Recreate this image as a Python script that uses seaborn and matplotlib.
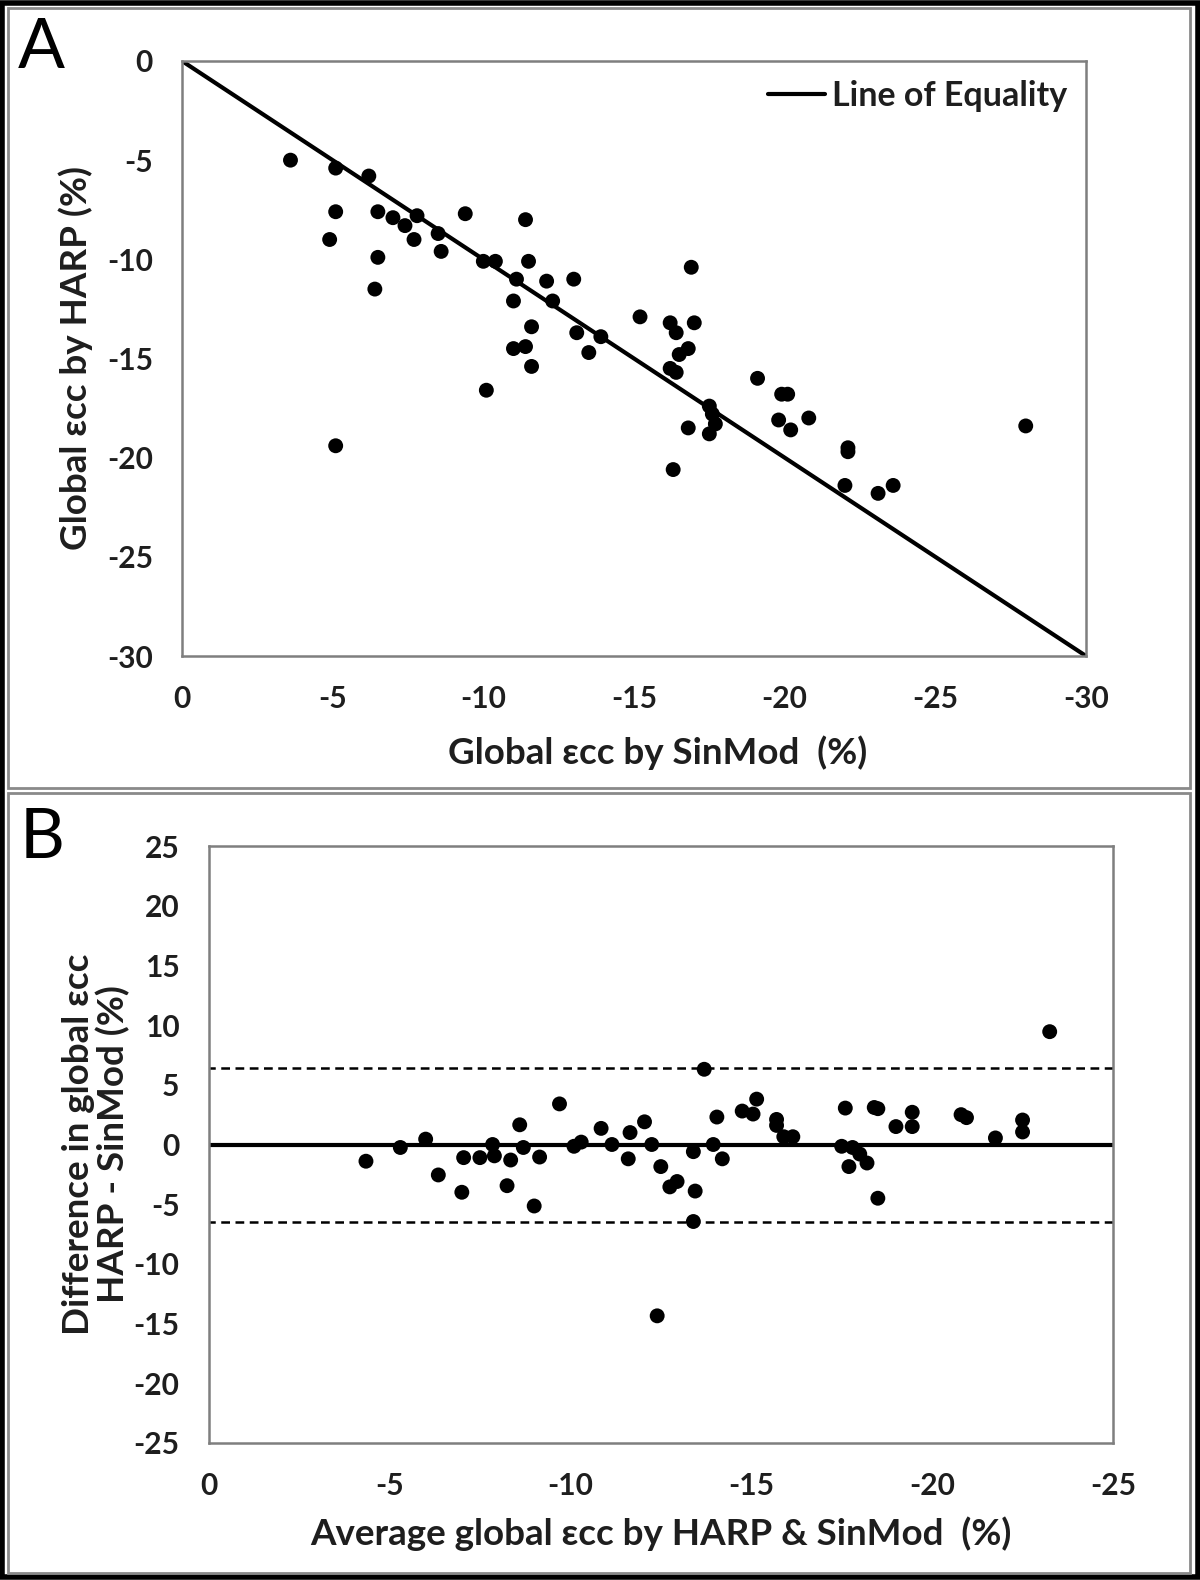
import numpy as np
import pandas as pd
import matplotlib
matplotlib.use('Agg')
import matplotlib.pyplot as plt
from matplotlib.patches import Rectangle
import seaborn as sns

# panel A: global ecc by SinMod (x) vs HARP (y), %
sinmod = [-3.6, -5.1, -6.2, -5.1, -4.9, -6.5, -7.0, -7.4, -7.8, -7.7, -8.5, -8.6,
          -6.5, -6.4, -5.1, -9.4, -10.0, -10.4, -11.4, -11.5, -11.1, -12.1, -13.0,
          -11.0, -12.3, -11.6, -13.1, -13.9, -11.0, -11.4, -13.5, -11.6, -10.1,
          -15.2, -16.2, -16.4, -16.9, -17.0, -16.8, -16.5, -16.2, -16.4, -17.5,
          -17.6, -17.7, -17.5, -16.8, -16.3, -19.1, -19.9, -20.1, -19.8, -20.2,
          -20.8, -22.1, -22.1, -22.0, -23.1, -23.6, -28.0]
harp = [-5.0, -5.4, -5.8, -7.6, -9.0, -7.6, -7.9, -8.3, -7.8, -9.0, -8.7, -9.6,
        -9.9, -11.5, -19.4, -7.7, -10.1, -10.1, -8.0, -10.1, -11.0, -11.1, -11.0,
        -12.1, -12.1, -13.4, -13.7, -13.9, -14.5, -14.4, -14.7, -15.4, -16.6,
        -12.9, -13.2, -13.7, -10.4, -13.2, -14.5, -14.8, -15.5, -15.7, -17.4,
        -17.8, -18.3, -18.8, -18.5, -20.6, -16.0, -16.8, -16.8, -18.1, -18.6,
        -18.0, -19.5, -19.7, -21.4, -21.8, -21.4, -18.4]
equality = [0, -30]

# panel B: Bland-Altman, mean vs difference (HARP - SinMod), %
avg = [-4.35, -5.3, -6.0, -6.35, -7.05, -7.0, -7.5, -7.85, -7.9, -8.35, -8.25,
       -8.6, -8.7, -9.15, -9.0, -9.7, -10.1, -10.3, -10.85, -11.15, -11.65, -11.6,
       -12.05, -12.25, -12.5, -12.75, -12.95, -12.4, -13.4, -13.45, -13.4, -13.7,
       -13.95, -14.05, -14.2, -14.75, -15.05, -15.15, -15.7, -15.7, -15.9, -16.15,
       -17.6, -17.5, -17.8, -18.0, -18.2, -17.7, -18.5, -18.4, -18.5, -19.0, -19.45,
       -19.45, -20.8, -20.95, -21.75, -22.5, -22.5, -23.25]
diff = [-1.4, -0.25, 0.45, -2.55, -1.1, -4.0, -1.1, 0.0, -0.95, -1.3, -3.45,
        1.65, -0.25, -1.05, -5.15, 3.4, -0.15, 0.2, 1.35, 0.0, 1.0, -1.2, 1.9, 0.0,
        -1.85, -3.55, -3.1, -14.35, -0.6, -3.9, -6.45, 6.3, 0.0, 2.3, -1.2, 2.8, 2.55,
        3.8, 2.1, 1.6, 0.65, 0.65, 3.05, -0.15, -0.25, -0.8, -1.55, -1.85, -4.5, 3.1,
        3.0, 1.5, 2.7, 1.5, 2.5, 2.25, 0.55, 2.05, 1.05, 9.45]
bias = [0, 0]
limits_upper = [6.4, 6.4]
limits_lower = [-6.45, -6.45]

dfA = pd.DataFrame({'sinmod': sinmod, 'harp': harp})
dfB = pd.DataFrame({'avg': avg, 'diff': diff})

sns.set_theme(style='white')
plt.rcParams['font.family'] = ['Lato', 'DejaVu Sans']
plt.rcParams['axes.unicode_minus'] = False
txt = '#1e1e1e'
spine_c = '#7f7f7f'

fig = plt.figure(figsize=(12, 15.8), dpi=100)

# frames: outer black, inner grey per panel
fig.patches.append(Rectangle((0.002, 0.002), 0.996, 0.996, transform=fig.transFigure,
                             fill=False, ec='black', lw=4))
fig.patches.append(Rectangle((8/1200, 1-788/1580), 1182/1200, 780/1580, transform=fig.transFigure,
                             fill=False, ec='#8a8a8a', lw=2))
fig.patches.append(Rectangle((8/1200, 1-1573/1580), 1182/1200, 780/1580, transform=fig.transFigure,
                             fill=False, ec='#8a8a8a', lw=2))

axA = fig.add_axes([182/1200, 1-656/1580, 904/1200, 595/1580])
axB = fig.add_axes([208.6/1200, 1-1443/1580, 904.4/1200, 597/1580])

# A
sns.lineplot(x=equality, y=equality, color='black', lw=3, ax=axA, label='Line of Equality')
sns.scatterplot(data=dfA, x='sinmod', y='harp', color='black', s=115, edgecolor='none', ax=axA)
axA.set_xlim(0, -30)
axA.set_ylim(-30, 0)
axA.set_xticks(np.arange(0, -31, -5))
axA.set_yticks(np.arange(0, -31, -5))
axA.set_xlabel('Global εcc by SinMod  (%)', fontsize=26.5, fontweight='bold', color=txt,
               labelpad=16, x=0.526)
axA.set_ylabel('Global εcc by HARP (%)', fontsize=26.5, fontweight='bold', color=txt, labelpad=10)
leg = axA.legend(loc='upper right', frameon=False, fontsize=24.5, handlelength=1.7,
                 handletextpad=0.2, borderaxespad=0.15)
for t in leg.get_texts():
    t.set_fontweight('bold')
    t.set_color(txt)

# B
sns.lineplot(x=[0, -25], y=bias, color='black', lw=3, ax=axB)
sns.lineplot(x=[0, -25], y=limits_upper, color='black', lw=1.8, ls=(0, (3.5, 2.2)), ax=axB)
sns.lineplot(x=[0, -25], y=limits_lower, color='black', lw=1.8, ls=(0, (3.5, 2.2)), ax=axB)
sns.scatterplot(data=dfB, x='avg', y='diff', color='black', s=115, edgecolor='none', ax=axB)
axB.set_xlim(0, -25)
axB.set_ylim(-25, 25)
axB.set_xticks(np.arange(0, -26, -5))
axB.set_yticks(np.arange(25, -26, -5))
axB.set_xlabel('Average global εcc by HARP & SinMod  (%)', fontsize=26.5, fontweight='bold',
               color=txt, labelpad=12)
axB.set_ylabel('Difference in global εcc\nHARP - SinMod (%)', fontsize=26.5, fontweight='bold',
               color=txt, labelpad=2, linespacing=1.05)

for ax in (axA, axB):
    for sp in ax.spines.values():
        sp.set_visible(True)
        sp.set_color(spine_c)
        sp.set_linewidth(1.8)
    ax.tick_params(axis='both', direction='out', length=9, width=1.8, color=spine_c,
                   labelsize=21.5, labelcolor=txt, pad=12)
    for lab in ax.get_xticklabels() + ax.get_yticklabels():
        lab.set_fontweight('bold')
    ax.grid(False)

fig.text(18/1200, 1-48/1580, 'A', fontsize=50, color='black', va='center', ha='left')
fig.text(20/1200, 1-838/1580, 'B', fontsize=50, color='black', va='center', ha='left')

fig.savefig('out.png', dpi=100, facecolor='white')
